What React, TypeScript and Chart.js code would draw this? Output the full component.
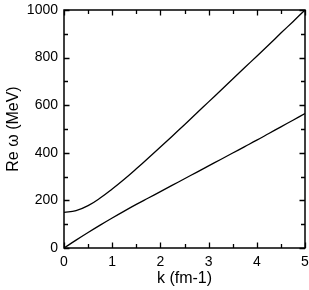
import { useEffect, useRef } from "react";
import { Chart, registerables } from "chart.js";

Chart.register(...registerables);

const kValues = [0, 0.25, 0.5, 0.75, 1, 1.25, 1.5, 1.75, 2, 2.25, 2.5, 2.75, 3, 3.25, 3.5, 3.75, 4, 4.25, 4.5, 4.75, 5];
const upperBranch = [150, 157, 178, 210, 248, 289, 333, 378, 424, 471, 518, 566, 614, 662, 710, 758, 806, 854, 903, 951, 1000];
const lowerBranch = [0, 33, 65, 96, 126, 155, 183, 210, 237, 264, 291, 318, 345, 372, 399, 426, 453, 481, 509, 537, 565];
const xMajorTicks = [0, 1, 2, 3, 4, 5];
const yMajorTicks = [0, 200, 400, 600, 800, 1000];
const xTitle = "k (fm-1)";
const yTitle = "Re ω (MeV)";

const framePlugin = {
  id: "frame",
  afterDatasetsDraw(chart: any) {
    const { ctx, chartArea: a, scales } = chart;
    const x = scales.x;
    const y = scales.y;
    ctx.save();
    ctx.strokeStyle = "#000";
    ctx.lineWidth = 1.5;
    ctx.strokeRect(a.left, a.top, a.right - a.left, a.bottom - a.top);
    ctx.lineWidth = 1.3;
    ctx.beginPath();
    for (let i = 0; i < xMajorTicks.length; i++) {
      const v = xMajorTicks[i];
      const px = Math.round(x.getPixelForValue(v)) + 0.5;
      ctx.moveTo(px, a.bottom); ctx.lineTo(px, a.bottom - 5.5);
      ctx.moveTo(px, a.top); ctx.lineTo(px, a.top + 5.5);
      if (i < xMajorTicks.length - 1) {
        const mv = (v + xMajorTicks[i + 1]) / 2;
        const mx = Math.round(x.getPixelForValue(mv)) + 0.5;
        ctx.moveTo(mx, a.bottom); ctx.lineTo(mx, a.bottom - 4);
        ctx.moveTo(mx, a.top); ctx.lineTo(mx, a.top + 4);
      }
    }
    for (let i = 0; i < yMajorTicks.length; i++) {
      const v = yMajorTicks[i];
      const py = Math.round(y.getPixelForValue(v)) + 0.5;
      ctx.moveTo(a.left, py); ctx.lineTo(a.left + 5.5, py);
      ctx.moveTo(a.right, py); ctx.lineTo(a.right - 5.5, py);
      if (i < yMajorTicks.length - 1) {
        const mv = (v + yMajorTicks[i + 1]) / 2;
        const my = Math.round(y.getPixelForValue(mv)) + 0.5;
        ctx.moveTo(a.left, my); ctx.lineTo(a.left + 4, my);
        ctx.moveTo(a.right, my); ctx.lineTo(a.right - 4, my);
      }
    }
    ctx.stroke();
    ctx.restore();
  },
};

export default function App() {
  const ref = useRef<HTMLCanvasElement | null>(null);

  useEffect(() => {
    document.body.style.margin = "0";
    const canvas = ref.current;
    if (!canvas) return;
    const family = "'Liberation Sans', Arial, sans-serif";
    const chart = new Chart(canvas, {
      type: "line",
      data: {
        datasets: [
          {
            data: kValues.map((k, i) => ({ x: k, y: upperBranch[i] })),
            borderColor: "#000",
            borderWidth: 1.3,
            pointRadius: 0,
            tension: 0.4,
            fill: false,
          },
          {
            data: kValues.map((k, i) => ({ x: k, y: lowerBranch[i] })),
            borderColor: "#000",
            borderWidth: 1.3,
            pointRadius: 0,
            tension: 0.4,
            fill: false,
          },
        ],
      },
      options: {
        responsive: false,
        animation: false,
        layout: { padding: { top: 10, right: 4, left: 0, bottom: 0 } },
        plugins: { legend: { display: false }, tooltip: { enabled: false } },
        scales: {
          x: {
            type: "linear",
            min: 0,
            max: 5,
            afterFit: (s: any) => { s.height = 42; s.paddingLeft = 0; s.paddingRight = 0; },
            afterBuildTicks: (s: any) => { s.ticks = xMajorTicks.map((v) => ({ value: v })); },
            grid: { display: false, drawTicks: false },
            border: { display: false },
            ticks: { color: "#000", padding: 6, font: { family, size: 14 }, maxRotation: 0, callback: (v: any) => String(v) },
            title: { display: true, text: xTitle, color: "#000", font: { family, size: 16 }, padding: { top: 2, bottom: 2 } },
          },
          y: {
            type: "linear",
            min: 0,
            max: 1000,
            afterFit: (s: any) => { s.width = 64; s.paddingTop = 0; s.paddingBottom = 0; },
            afterBuildTicks: (s: any) => { s.ticks = yMajorTicks.map((v) => ({ value: v })); },
            grid: { display: false, drawTicks: false },
            border: { display: false },
            ticks: { color: "#000", padding: 6, font: { family, size: 14 }, callback: (v: any) => String(v) },
            title: { display: true, text: yTitle, color: "#000", font: { family, size: 16 }, padding: { top: 4, bottom: 2 } },
          },
        },
      },
      plugins: [framePlugin],
    } as any);
    return () => chart.destroy();
  }, []);

  return (
    <div style={{ width: 309, height: 290 }}>
      <canvas ref={ref} width={309} height={290} style={{ display: "block" }} />
    </div>
  );
}
